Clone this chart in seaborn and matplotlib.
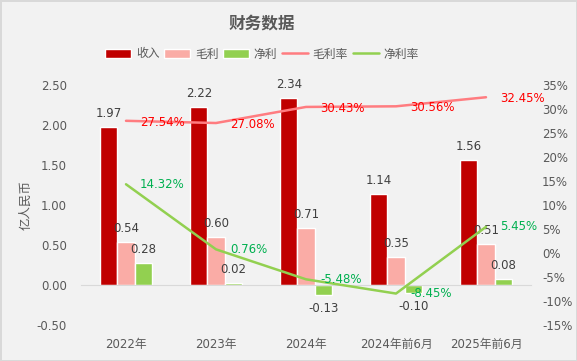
import matplotlib
matplotlib.use('Agg')
import matplotlib.pyplot as plt
import matplotlib.ticker as mticker
from matplotlib.patches import Patch
from matplotlib.lines import Line2D
import seaborn as sns
import pandas as pd
import numpy as np

# Datos
categories = ['2022年', '2023年', '2024年', '2024年前6月', '2025年前6月']
revenue = [1.97, 2.22, 2.34, 1.14, 1.56]
gross_profit = [0.54, 0.60, 0.71, 0.35, 0.51]
net_profit = [0.28, 0.02, -0.13, -0.10, 0.08]
gross_margin = [27.54, 27.08, 30.43, 30.56, 32.45]
net_margin = [14.32, 0.76, -5.48, -8.45, 5.45]

series_names = ['收入', '毛利', '净利']
bar_colors = ['#C00000', '#FAACA6', '#92D050']
gm_color = '#FF7C80'
nm_color = '#92D050'

sns.set_style('white')
plt.rcParams['font.family'] = ['DejaVu Sans', 'Noto Sans CJK SC']
plt.rcParams['axes.unicode_minus'] = False

df = pd.DataFrame({
    'cat': categories * 3,
    'serie': [s for s in series_names for _ in categories],
    'valor': revenue + gross_profit + net_profit,
})

fig = plt.figure(figsize=(5.77, 3.61), dpi=100, facecolor='#F2F2F2',
                 edgecolor='#D9D9D9', linewidth=2)
ax = fig.add_axes([81 / 577, 1 - 325 / 361, 450 / 577, 240 / 361])
ax.set_facecolor('#F2F2F2')

sns.barplot(data=df, x='cat', y='valor', hue='serie', palette=bar_colors,
            width=0.57, gap=0, ax=ax, legend=False, saturation=1)

for cont in ax.containers:
    ax.bar_label(cont, fmt='%.2f', padding=5, fontsize=8.5, color='#404040')

ax.set_ylim(-0.5, 2.5)
ax.set_xlim(-0.5, len(categories) - 0.5)
ax.yaxis.set_major_locator(mticker.MultipleLocator(0.5))
ax.yaxis.set_major_formatter(mticker.FormatStrFormatter('%.2f'))
ax.set_xlabel('')
ax.set_ylabel('亿人民币', fontsize=9, color='#595959', labelpad=3,
              family=['Noto Sans CJK SC'])
for s in ['top', 'left', 'right']:
    ax.spines[s].set_visible(False)
ax.spines['bottom'].set_position(('data', 0))
ax.spines['bottom'].set_color('#D9D9D9')
ax.tick_params(axis='y', length=0, labelsize=8.5, labelcolor='#595959', pad=10)
ax.tick_params(axis='x', which='major', length=0, labelsize=8.5,
               labelcolor='#595959', pad=38)
ax.set_xticks(np.arange(-0.5, len(categories)), minor=True)
ax.tick_params(axis='x', which='minor', length=4, color='#D9D9D9', direction='out')

# Eje secundario (porcentajes)
ax2 = ax.twinx()
x = np.arange(len(categories))
sns.lineplot(x=x, y=gross_margin, ax=ax2, color=gm_color, linewidth=1.8)
sns.lineplot(x=x, y=net_margin, ax=ax2, color=nm_color, linewidth=1.8)
ax2.set_ylim(-15, 35)
ax2.yaxis.set_major_locator(mticker.MultipleLocator(5))
ax2.yaxis.set_major_formatter(mticker.FormatStrFormatter('%d%%'))
ax2.tick_params(axis='y', length=0, labelsize=8.5, labelcolor='#595959', pad=8)
for s in ax2.spines.values():
    s.set_visible(False)

for xi, v in zip(x, gross_margin):
    ax2.annotate(f'{v:.2f}%', (xi, v), xytext=(10, -1), textcoords='offset points',
                 ha='left', va='center', fontsize=8.5, color='#FF0000')
for xi, v in zip(x, net_margin):
    ax2.annotate(f'{v:.2f}%', (xi, v), xytext=(10, 0), textcoords='offset points',
                 ha='left', va='center', fontsize=8.5, color='#00B050')

fig.text(262 / 577, 1 - 23 / 361, '财务数据', ha='center', va='center', fontsize=12,
         fontweight='bold', color='#595959', family=['Noto Sans CJK SC'])

handles = [Patch(facecolor=c, label=n) for c, n in zip(bar_colors, series_names)]
handles += [Line2D([0], [0], color=gm_color, lw=1.8, label='毛利率'),
            Line2D([0], [0], color=nm_color, lw=1.8, label='净利率')]
fig.legend(handles=handles, loc='center', bbox_to_anchor=(262 / 577, 1 - 54 / 361),
           ncol=5, frameon=False, fontsize=8.5, handlelength=2.2, handleheight=0.8,
           handletextpad=0.4, columnspacing=0.4, labelcolor='#595959')

fig.savefig('out.png', dpi=100, facecolor=fig.get_facecolor(),
            edgecolor=fig.get_edgecolor())
